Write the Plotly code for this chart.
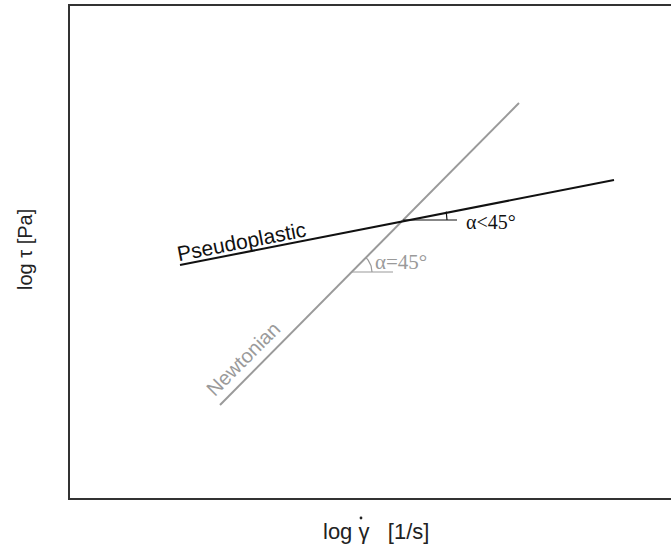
import numpy as np
import plotly.graph_objects as go

# Data (arbitrary log units)
newtonian_x = [1.50, 4.49]
newtonian_y = [0.93, 3.95]
pseudo_x = [1.10, 5.44]
pseudo_y = [2.33, 3.18]
x_range = [0, 6.01]
y_range = [0, 4.92]

# intersection / helper points
ix, iy = 3.33, 2.78      # crossing point of the two lines
nx0, ny0 = 2.82, 2.26    # point on Newtonian where the 45° angle is marked

fig = go.Figure()
fig.add_trace(go.Scatter(x=newtonian_x, y=newtonian_y, mode="lines",
                         line=dict(color="#9a9a9a", width=2), hoverinfo="skip"))
fig.add_trace(go.Scatter(x=pseudo_x, y=pseudo_y, mode="lines",
                         line=dict(color="#111111", width=2), hoverinfo="skip"))

# angle markers
slope_p = (pseudo_y[1] - pseudo_y[0]) / (pseudo_x[1] - pseudo_x[0])
ang_p = np.arctan(slope_p)
r1 = 0.44
t = np.linspace(0, ang_p, 20)
fig.add_trace(go.Scatter(x=[ix, ix + 0.54], y=[iy, iy], mode="lines",
                         line=dict(color="#111111", width=1.2), hoverinfo="skip"))
fig.add_trace(go.Scatter(x=ix + r1 * np.cos(t), y=iy + r1 * np.sin(t), mode="lines",
                         line=dict(color="#111111", width=1.2), hoverinfo="skip"))

r2 = 0.20
t2 = np.linspace(0, np.pi / 4, 20)
fig.add_trace(go.Scatter(x=[nx0, nx0 + 0.41], y=[ny0, ny0], mode="lines",
                         line=dict(color="#9a9a9a", width=1.2), hoverinfo="skip"))
fig.add_trace(go.Scatter(x=nx0 + r2 * np.cos(t2), y=ny0 + r2 * np.sin(t2), mode="lines",
                         line=dict(color="#9a9a9a", width=1.2), hoverinfo="skip"))

def px_x(p):
    return (p - 70) / 601

def px_y(p):
    return (498 - p) / 492

annotations = [
    dict(x=1.71, y=2.57, text="Pseudoplastic", textangle=-11, showarrow=False,
         font=dict(family="Liberation Sans, Arial", size=21, color="#111111")),
    dict(x=1.73, y=1.39, text="Newtonian", textangle=-45, showarrow=False,
         font=dict(family="Liberation Sans, Arial", size=20, color="#9a9a9a")),
    dict(x=3.94, y=2.76, text="α<45°", showarrow=False, xanchor="left",
         font=dict(family="Liberation Serif, Times New Roman", size=20, color="#111111")),
    dict(x=3.03, y=2.36, text="α=45°", showarrow=False, xanchor="left",
         font=dict(family="Liberation Serif, Times New Roman", size=21, color="#9a9a9a")),
    dict(x=px_x(25), y=px_y(250), xref="paper", yref="paper", text="log τ [Pa]",
         textangle=-90, xanchor="center", yanchor="middle", showarrow=False,
         font=dict(family="Liberation Sans, Arial", size=20, color="#222222")),
    dict(x=px_x(321), y=px_y(531), xref="paper", yref="paper",
         text="log γ&nbsp;&nbsp;&nbsp;[1/s]", xanchor="left", yanchor="middle",
         showarrow=False, font=dict(family="Liberation Sans, Arial", size=22, color="#222222")),
]

fig.update_layout(
    width=671, height=549,
    margin=dict(l=70, r=0, t=6, b=51),
    paper_bgcolor="white", plot_bgcolor="white",
    showlegend=False,
    annotations=annotations,
    shapes=[dict(type="circle", xref="paper", yref="paper",
                 x0=px_x(359.6), x1=px_x(362.4), y0=px_y(516.6), y1=px_y(519.4),
                 fillcolor="#222222", line=dict(width=0))],
)
fig.update_xaxes(range=x_range, showgrid=False, zeroline=False, showticklabels=False,
                 ticks="", showline=True, linecolor="#333333", linewidth=2, mirror=True)
fig.update_yaxes(range=y_range, showgrid=False, zeroline=False, showticklabels=False,
                 ticks="", showline=True, linecolor="#333333", linewidth=2, mirror=False)

fig.write_html("out.html", config={"displayModeBar": False},
               post_script="document.body.style.margin='0';")
